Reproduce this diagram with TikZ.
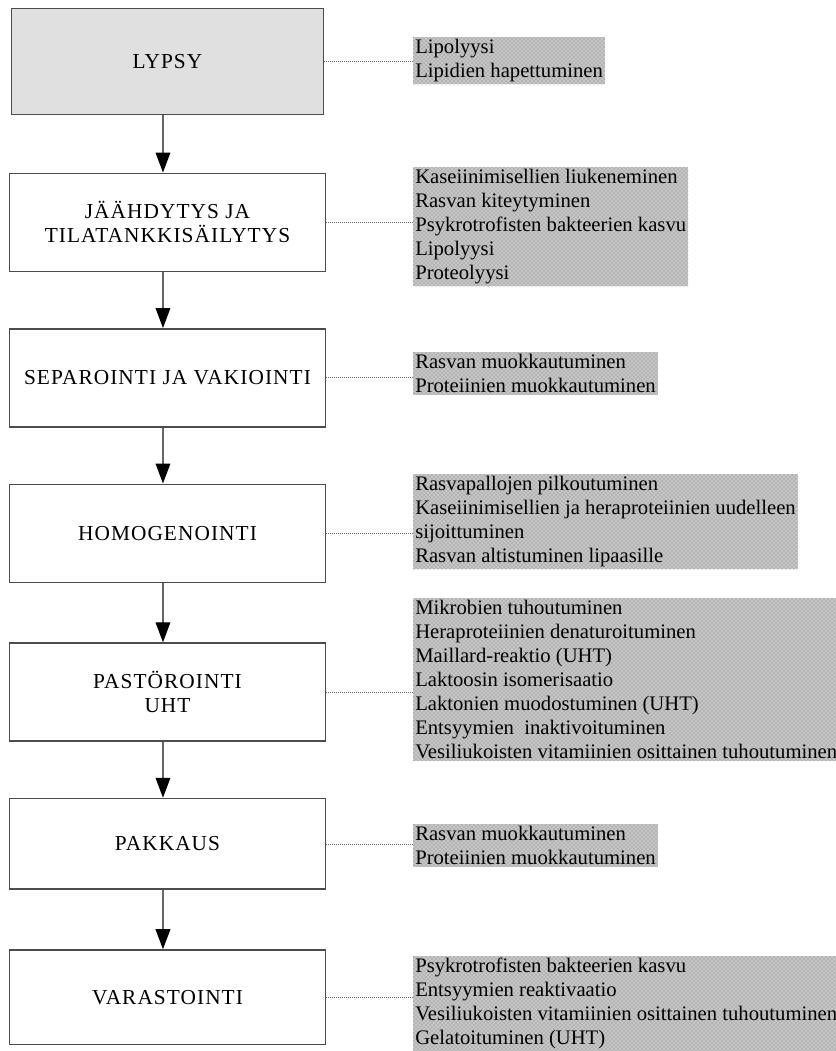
\documentclass[tikz,border=0pt]{standalone}
\usepackage{fontspec}
\setmainfont{Liberation Serif}
\newfontfamily\vaihefont[LetterSpace=5]{Liberation Serif}
\usetikzlibrary{positioning,arrows.meta,patterns}
\tikzset{
  vaihe/.style={draw=black!70, line width=1.1pt, minimum width=237pt,
    minimum height=73.5pt, align=center, inner sep=2pt,
    font=\vaihefont\fontsize{16}{18}\selectfont},
  muutos/.style={anchor=north west, align=left, inner sep=1.5pt,
    font=\fontsize{15.5}{18}\selectfont,
    preaction={fill=black!22}, pattern=crosshatch dots, pattern color=black!55},
  nuoli/.style={draw=black!60, line width=1pt,
    -{Triangle[width=11pt,length=15pt,color=black]}},
  viiva/.style={draw=black!60, densely dotted, line width=0.5pt}
}
\begin{document}
\begin{tikzpicture}[x=0.75pt, y=-0.75pt]
            \useasboundingbox (0,0) rectangle (836,1051);
            % prosessin vaiheet
            \node[vaihe, fill=black!12, minimum width=234pt, minimum height=79.5pt] (b1) at (167.5,61.5) {LYPSY};
            \node[vaihe, below=43pt of b1] (b2) {JÄÄHDYTYS JA\\TILATANKKISÄILYTYS};
            \node[vaihe, below=42pt of b2] (b3) {SEPAROINTI JA VAKIOINTI};
            \node[vaihe, below=42pt of b3] (b4) {HOMOGENOINTI};
            \node[vaihe, below=44.5pt of b4] (b5) {PASTÖROINTI\\UHT};
            \node[vaihe, below=42pt of b5, minimum height=68pt] (b6) {PAKKAUS};
            \node[vaihe, below=44.5pt of b6, minimum height=71pt] (b7) {VARASTOINTI};

            % muutokset maidossa
            \node[muutos] (n1) at (413,37) {Lipolyysi\\Lipidien hapettuminen};
            \node[muutos] (n2) at (413,167) {Kaseiinimisellien liukeneminen\\Rasvan kiteytyminen\\Psykrotrofisten bakteerien kasvu\\Lipolyysi\\Proteolyysi};
            \node[muutos] (n3) at (413,352) {Rasvan muokkautuminen\\Proteiinien muokkautuminen};
            \node[muutos] (n4) at (413,474) {Rasvapallojen pilkoutuminen\\Kaseiinimisellien ja heraproteiinien uudelleen\\sijoittuminen\\Rasvan altistuminen lipaasille};
            \node[muutos] (n5) at (413,598) {Mikrobien tuhoutuminen\\Heraproteiinien denaturoituminen\\Maillard-reaktio (UHT)\\Laktoosin isomerisaatio\\Laktonien muodostuminen (UHT)\\Entsyymien \ inaktivoituminen\\Vesiliukoisten vitamiinien osittainen tuhoutuminen};
            \node[muutos] (n6) at (413,824) {Rasvan muokkautuminen\\Proteiinien muokkautuminen};
            \node[muutos] (n7) at (413,956) {Psykrotrofisten bakteerien kasvu\\Entsyymien reaktivaatio\\Vesiliukoisten vitamiinien osittainen tuhoutuminen\\Gelatoituminen (UHT)};

            % nuolet
            \foreach \a/\b in {b1/b2, b2/b3, b3/b4, b4/b5, b5/b6, b6/b7}
              \draw[nuoli] ([xshift=-3.4pt]\a.south) -- ([xshift=-3.4pt]\b.north);

            % katkoviivat
            \foreach \i in {1,...,7}
              \draw[viiva] (b\i.east) -- (b\i.east -| n\i.west);
        \end{tikzpicture}
\end{document}
